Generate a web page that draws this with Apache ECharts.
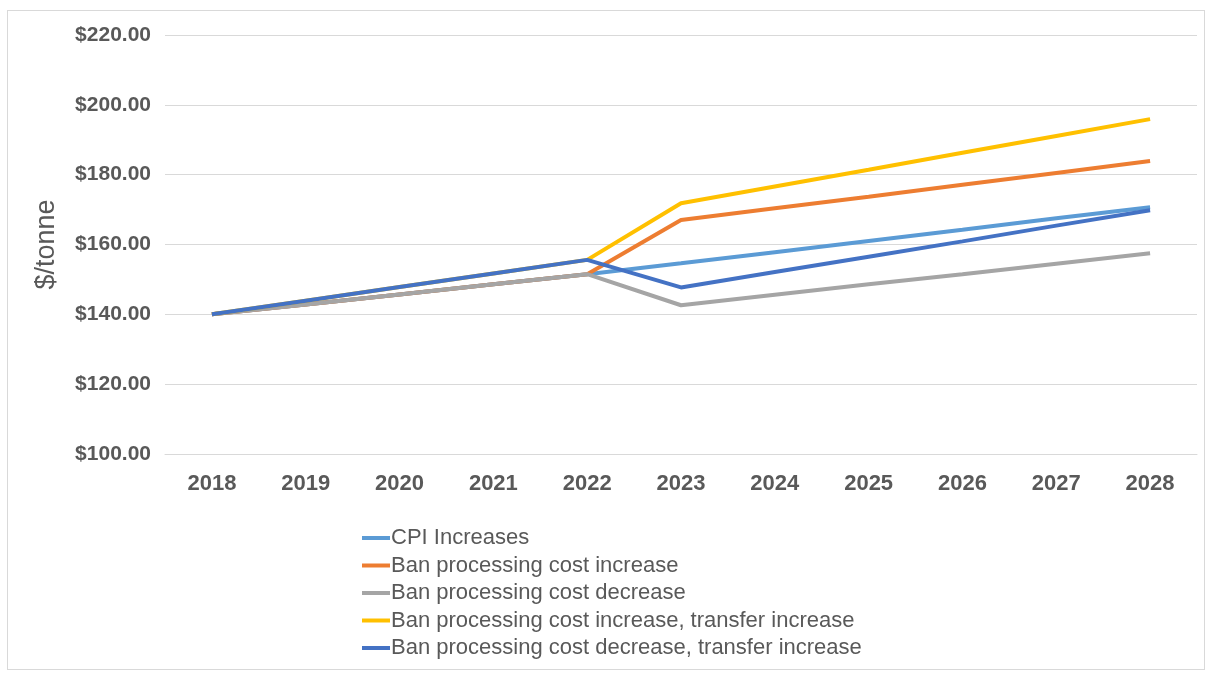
<!DOCTYPE html>
<html>
<head>
<meta charset="utf-8">
<script src="https://cdn.jsdelivr.net/npm/echarts@6/dist/echarts.min.js"></script>
<style>
html,body{margin:0;padding:0;background:#fff;}
#frame{position:absolute;left:7px;top:10px;width:1198px;height:660px;border:1px solid #d9d9d9;box-sizing:border-box;}
#chart{position:absolute;left:0;top:0;width:1210px;height:679px;}
</style>
</head>
<body>
<div id="frame"></div>
<div id="chart"></div>
<script>
const years = ['2018','2019','2020','2021','2022','2023','2024','2025','2026','2027','2028'];
const cpiIncreases = [140, 142.8, 145.7, 148.6, 151.5, 154.6, 157.8, 161.0, 164.2, 167.5, 170.7];
const banIncrease = [140, 142.8, 145.7, 148.6, 151.5, 167.0, 170.4, 173.7, 177.1, 180.5, 183.9];
const banDecrease = [140, 142.8, 145.7, 148.6, 151.5, 142.6, 145.6, 148.6, 151.5, 154.5, 157.5];
const banIncreaseTransfer = [140, 143.9, 147.8, 151.7, 155.6, 171.8, 176.6, 181.4, 186.3, 191.1, 195.9];
const banDecreaseTransfer = [140, 143.9, 147.8, 151.7, 155.6, 147.7, 152.1, 156.5, 160.9, 165.4, 169.8];
const seriesNames = ['CPI Increases','Ban processing cost increase','Ban processing cost decrease','Ban processing cost increase, transfer increase','Ban processing cost decrease, transfer increase'];
const seriesData = [cpiIncreases, banIncrease, banDecrease, banIncreaseTransfer, banDecreaseTransfer];
const colors = ['#5B9BD5','#ED7D31','#A5A5A5','#FFC000','#4472C4'];
const yAxisName = '$/tonne';

const FONT = 'Liberation Sans, Arial, sans-serif';
const chart = echarts.init(document.getElementById('chart'));
chart.setOption({
  animation:false,
  color: colors,
  grid:{left:165,right:13,top:35,bottom:225},
  legend:{
    orient:'vertical', left:357, top:522,
    icon:'rect', itemWidth:28, itemHeight:4, itemGap:5.5,
    textStyle:{color:'#595959', fontFamily:FONT, fontSize:22, lineHeight:22, padding:[0,0,0,-4]},
    data: seriesNames
  },
  xAxis:{
    type:'category', data: years, boundaryGap:true,
    axisLine:{show:true, lineStyle:{color:'#d9d9d9', width:1}},
    axisTick:{show:false},
    axisLabel:{color:'#595959', fontWeight:'bold', fontFamily:FONT, fontSize:22, margin:19}
  },
  yAxis:{
    type:'value', min:100, max:220, interval:20,
    name: yAxisName, nameLocation:'middle', nameGap:105,
    nameTextStyle:{color:'#595959', fontFamily:FONT, fontSize:27},
    axisLine:{show:false}, axisTick:{show:false},
    splitLine:{lineStyle:{color:'#d9d9d9', width:1}},
    axisLabel:{color:'#595959', fontWeight:'bold', fontFamily:FONT, fontSize:21, margin:14,
      formatter: v => '$' + v.toFixed(2)}
  },
  series: seriesNames.map((n,i)=>({
    name:n, type:'line', data: seriesData[i], symbol:'none',
    lineStyle:{width:4, color:colors[i]}, z: 2+i
  }))
});
</script>
</body>
</html>
